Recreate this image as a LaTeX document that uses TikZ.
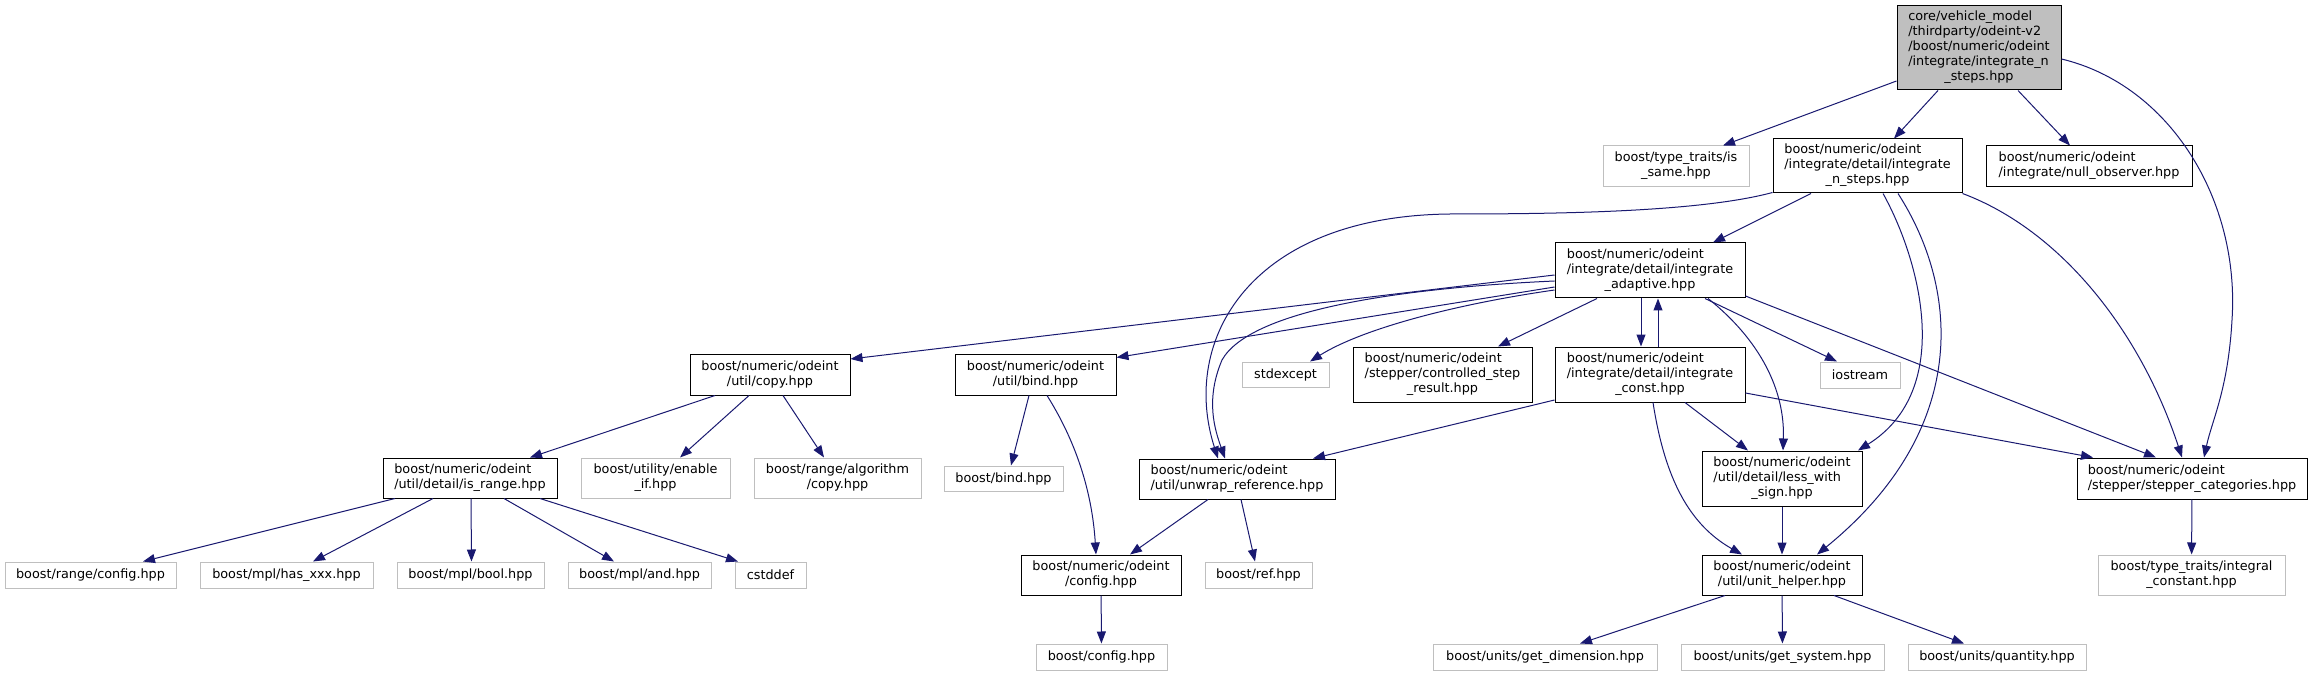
\documentclass[tikz,border=0pt]{standalone}
\usepackage{fontspec}
\setmainfont{DejaVu Sans}
\usetikzlibrary{arrows.meta}
\definecolor{edgeblue}{HTML}{191970}
\definecolor{extgray}{HTML}{BFBFBF}
\tikzset{
    file box/.style={draw=black, line width=1pt, fill=white, inner sep=0pt,
        font=\fontsize{12.8}{15}\selectfont},
    ext box/.style={file box, draw=extgray},
    root box/.style={file box, fill=extgray},
    include edge/.style={->, line width=1pt, edgeblue}
}
\newcommand{\Lines}[1]{\begin{tabular}{@{}l@{}}#1\end{tabular}}
\newcommand{\Last}[1]{\multicolumn{1}{@{}c@{}}{#1}}

\begin{document}
\begin{tikzpicture}[x=1pt,y=-1pt,>={Triangle[length=12pt,width=9pt]}]
    \useasboundingbox(0,0)rectangle(2313,676);

    % top rows
    \node[root box,minimum width=164,minimum height=84](root)at(1979,48)
        {\Lines{core/vehicle\_model\\/thirdparty/odeint-v2\\/boost/numeric/odeint\\/integrate/integrate\_n\\\Last{\_steps.hpp}}};
    \node[ext box,minimum width=146,minimum height=41](issame)at(1676,166.5)
        {\Lines{boost/type\_traits/is\\\Last{\_same.hpp}}};
    \node[file box,minimum width=189,minimum height=54](nsteps)at(1867.5,166)
        {\Lines{boost/numeric/odeint\\/integrate/detail/integrate\\\Last{\_n\_steps.hpp}}};
    \node[file box,minimum width=206,minimum height=41](nullobs)at(2089,166.5)
        {\Lines{boost/numeric/odeint\\\Last{/integrate/null\_observer.hpp}}};
    \node[file box,minimum width=190,minimum height=55](adaptive)at(1650,270.5)
        {\Lines{boost/numeric/odeint\\/integrate/detail/integrate\\\Last{\_adaptive.hpp}}};

    \node[file box,minimum width=160,minimum height=41](copy)at(770,374.5)
        {\Lines{boost/numeric/odeint\\\Last{/util/copy.hpp}}};
    \node[file box,minimum width=161,minimum height=41](ubind)at(1035.5,374.5)
        {\Lines{boost/numeric/odeint\\\Last{/util/bind.hpp}}};
    \node[ext box,minimum width=87,minimum height=25](stdexcept)at(1285.5,374.5){stdexcept};
    \node[file box,minimum width=179,minimum height=55](ctrlstep)at(1442.5,374.5)
        {\Lines{boost/numeric/odeint\\/stepper/controlled\_step\\\Last{\_result.hpp}}};
    \node[file box,minimum width=190,minimum height=55](iconst)at(1650,374.5)
        {\Lines{boost/numeric/odeint\\/integrate/detail/integrate\\\Last{\_const.hpp}}};
    \node[ext box,minimum width=80,minimum height=26](iostream)at(1860,375){iostream};

    \node[file box,minimum width=174,minimum height=40](isrange)at(470,478)
        {\Lines{boost/numeric/odeint\\\Last{/util/detail/is\_range.hpp}}};
    \node[ext box,minimum width=149,minimum height=40](enableif)at(655.5,478)
        {\Lines{boost/utility/enable\\\Last{\_if.hpp}}};
    \node[ext box,minimum width=167,minimum height=40](rcopy)at(837.5,478)
        {\Lines{boost/range/algorithm\\\Last{/copy.hpp}}};
    \node[ext box,minimum width=119,minimum height=25](bbind)at(1003.5,478.5){boost/bind.hpp};
    \node[file box,minimum width=196,minimum height=40](unwrap)at(1237,479)
        {\Lines{boost/numeric/odeint\\\Last{/util/unwrap\_reference.hpp}}};
    \node[file box,minimum width=160,minimum height=55](lws)at(1782,478.5)
        {\Lines{boost/numeric/odeint\\/util/detail/less\_with\\\Last{\_sign.hpp}}};
    \node[file box,minimum width=230,minimum height=41](stepcat)at(2192,478.5)
        {\Lines{boost/numeric/odeint\\\Last{/stepper/stepper\_categories.hpp}}};

    \node[ext box,minimum width=171,minimum height=26](rconfig)at(90.5,575){boost/range/config.hpp};
    \node[ext box,minimum width=173,minimum height=26](hasxxx)at(286.5,575){boost/mpl/has\_xxx.hpp};
    \node[ext box,minimum width=147,minimum height=26](mplbool)at(470.5,575){boost/mpl/bool.hpp};
    \node[ext box,minimum width=143,minimum height=26](mpland)at(639.5,575){boost/mpl/and.hpp};
    \node[ext box,minimum width=71,minimum height=26](cstddef)at(770.5,575){cstddef};
    \node[file box,minimum width=160,minimum height=40](oconfig)at(1101,575)
        {\Lines{boost/numeric/odeint\\\Last{/config.hpp}}};
    \node[ext box,minimum width=107,minimum height=26](ref)at(1258.5,575){boost/ref.hpp};
    \node[file box,minimum width=160,minimum height=40](unithelper)at(1782,575)
        {\Lines{boost/numeric/odeint\\\Last{/util/unit\_helper.hpp}}};
    \node[ext box,minimum width=187,minimum height=40](integralc)at(2191.5,575)
        {\Lines{boost/type\_traits/integral\\\Last{\_constant.hpp}}};

    \node[ext box,minimum width=131,minimum height=26](bconfig)at(1101.5,657){boost/config.hpp};
    \node[ext box,minimum width=224,minimum height=26](getdim)at(1545,657){boost/units/get\_dimension.hpp};
    \node[ext box,minimum width=203,minimum height=26](getsys)at(1782.5,657){boost/units/get\_system.hpp};
    \node[ext box,minimum width=178,minimum height=26](quantity)at(1997,657){boost/units/quantity.hpp};

    % includes of the root file
    \draw[include edge]([yshift=-33]root.west)--([xshift=47]issame.north);
    \draw[include edge]([xshift=-41]root.south)--([xshift=26.5]nsteps.north);
    \draw[include edge]([xshift=39]root.south)--([xshift=-19]nullobs.north);
    \draw[include edge]([yshift=-11]root.east)
        ..controls(2170,85)and(2240,200)..(2232,320)
        ..controls(2228,390)and(2212,420)..([xshift=12]stepcat.north);

    % integrate_n_steps
    \draw[include edge]([xshift=-56.5]nsteps.south)--([xshift=63]adaptive.north);
    \draw[include edge]([yshift=1]nsteps.south west)
        ..controls(1700,212)and(1560,214)..(1450,214)
        ..controls(1250,216)and(1180,340)..([xshift=-19]unwrap.north);
    \draw[include edge]([xshift=15.5]nsteps.south)
        ..controls(1920,260)and(1955,390)..([xshift=76]lws.north);
    \draw[include edge]([xshift=30.5]nsteps.south)
        ..controls(1960,290)and(1970,430)..([xshift=35]unithelper.north);
    \draw[include edge](nsteps.south east)
        ..controls(2060,230)and(2140,330)..([xshift=-10]stepcat.north);

    % integrate_adaptive
    \draw[include edge]([yshift=-4.5]adaptive.west)--([yshift=15.5]copy.east);
    \draw[include edge]([yshift=-16.5]adaptive.west)--([yshift=17]ubind.east);
    \draw[include edge]([yshift=-10.5]adaptive.west)
        ..controls(1400,288)and(1250,310)..(1222,360)
        ..controls(1205,400)and(1215,430)..([xshift=-12]unwrap.north);
    \draw[include edge]([yshift=-19.5]adaptive.west)
        ..controls(1450,305)and(1360,330)..([xshift=24.5]stdexcept.north);
    \draw[include edge]([xshift=-53]adaptive.south)--([xshift=55.5]ctrlstep.north);
    \draw[include edge]([xshift=-9]adaptive.south)--([xshift=-9]iconst.north);
    \draw[include edge]([xshift=8]iconst.north)--([xshift=8]adaptive.south);
    \draw[include edge]([xshift=55]adaptive.south)--([xshift=-23]iostream.north);
    \draw[include edge]([xshift=58]adaptive.south)
        ..controls(1760,340)and(1785,390)..([xshift=1]lws.north);
    \draw[include edge]([yshift=-25.5]adaptive.east)--([xshift=-36]stepcat.north);

    % integrate_const
    \draw[include edge]([yshift=-25.5]iconst.west)--([xshift=76]unwrap.north);
    \draw[include edge]([xshift=35]iconst.south)--([xshift=-34]lws.north);
    \draw[include edge]([xshift=3]iconst.south)
        ..controls(1665,480)and(1690,525)..([xshift=-40]unithelper.north);
    \draw[include edge]([yshift=-18.5]iconst.east)--([xshift=-99]stepcat.north);

    % util headers
    \draw[include edge]([xshift=-55]copy.south)--([xshift=60]isrange.north);
    \draw[include edge]([xshift=-21]copy.south)--([xshift=24.5]enableif.north);
    \draw[include edge]([xshift=13]copy.south)--([xshift=-13.5]rcopy.north);
    \draw[include edge]([xshift=-75]isrange.south)--([xshift=52.5]rconfig.north);
    \draw[include edge]([xshift=-37]isrange.south)--([xshift=26.5]hasxxx.north);
    \draw[include edge]([xshift=1]isrange.south)--([xshift=1]mplbool.north);
    \draw[include edge]([xshift=34]isrange.south)--([xshift=-25.5]mpland.north);
    \draw[include edge]([xshift=70]isrange.south)--([xshift=-32.5]cstddef.north);
    \draw[include edge]([xshift=-6.5]ubind.south)--([xshift=7.5]bbind.north);
    \draw[include edge]([xshift=11.5]ubind.south)
        ..controls(1075,440)and(1092,490)..([xshift=-5]oconfig.north);
    \draw[include edge]([xshift=-29]unwrap.south)--([xshift=29]oconfig.north);
    \draw[include edge]([xshift=4]unwrap.south)--([xshift=-3.5]ref.north);
    \draw[include edge](oconfig)--(bconfig);
    \draw[include edge](lws)--(unithelper);
    \draw[include edge](stepcat)--(integralc);
    \draw[include edge]([xshift=-57]unithelper.south)--([xshift=35]getdim.north);
    \draw[include edge](unithelper)--(getsys);
    \draw[include edge]([xshift=52]unithelper.south)--([xshift=-33]quantity.north);
\end{tikzpicture}
\end{document}
